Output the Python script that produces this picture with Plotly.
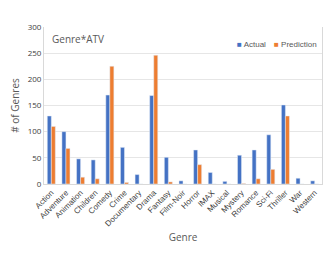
import plotly.graph_objects as go

genres = ["Action", "Adventure", "Animation", "Children", "Comedy", "Crime", "Documentary",
          "Drama", "Fantasy", "Film-Noir", "Horror", "IMAX", "Musical", "Mystery",
          "Romance", "Sci-Fi", "Thriller", "War", "Western"]
actual = [130, 100, 48, 46, 170, 70, 18, 169, 51, 6, 65, 22, 5, 55, 65, 94, 151, 11, 6]
prediction = [110, 68, 13, 10, 225, 3, 0, 246, 4, 0, 37, 0, 0, 1, 10, 28, 130, 0, 0]
y_ticks = [0, 50, 100, 150, 200, 250, 300]
series_names = ["Actual", "Prediction"]
colors = ["#4472C4", "#ED7D31"]

fig = go.Figure()
fig.add_trace(go.Bar(x=genres, y=actual, name=series_names[0], marker_color=colors[0]))
fig.add_trace(go.Bar(x=genres, y=prediction, name=series_names[1], marker_color=colors[1]))

legend_x = [0.805, 0.99]
annotations = [dict(text="Genre*ATV", xref="paper", yref="paper", x=0.02, y=0.925,
                    xanchor="left", yanchor="middle", showarrow=False,
                    font=dict(size=10, color="#595959"))]
for name, col, lx in zip(series_names, colors, legend_x):
    annotations.append(dict(text=f"<span style='color:{col}'>■</span> {name}",
                            xref="paper", yref="paper", x=lx, y=0.89,
                            xanchor="right", yanchor="middle", showarrow=False,
                            font=dict(size=8, color="#595959",
                                      family="Liberation Sans, Arial, sans-serif")))

fig.update_layout(
    width=324, height=260,
    margin=dict(l=36, r=10, t=19, b=84),
    paper_bgcolor="white", plot_bgcolor="white",
    barmode="group", bargap=0.45, bargroupgap=0.0,
    font=dict(family="Open Sans, Liberation Sans, sans-serif", color="#595959"),
    showlegend=False,
    annotations=annotations,
)
fig.update_xaxes(
    automargin=False,
    tickangle=-45, tickfont=dict(size=8, color="#404040",
                                 family="Liberation Sans, Arial, sans-serif"),
    showline=True, linecolor="#D9D9D9", linewidth=1,
    title=dict(text="Genre", font=dict(size=10, color="#595959"), standoff=6),
    ticks="",
)
fig.update_yaxes(
    automargin=False,
    range=[0, 300], tickvals=y_ticks, tickfont=dict(size=8, color="#404040"),
    showgrid=True, gridcolor="#E6E6E6", gridwidth=1,
    showline=True, mirror=True, linecolor="#D9D9D9", linewidth=1,
    zeroline=False,
    title=dict(text="# of Genres", font=dict(size=10, color="#595959"), standoff=6),
)

fig.write_html("out.html")
